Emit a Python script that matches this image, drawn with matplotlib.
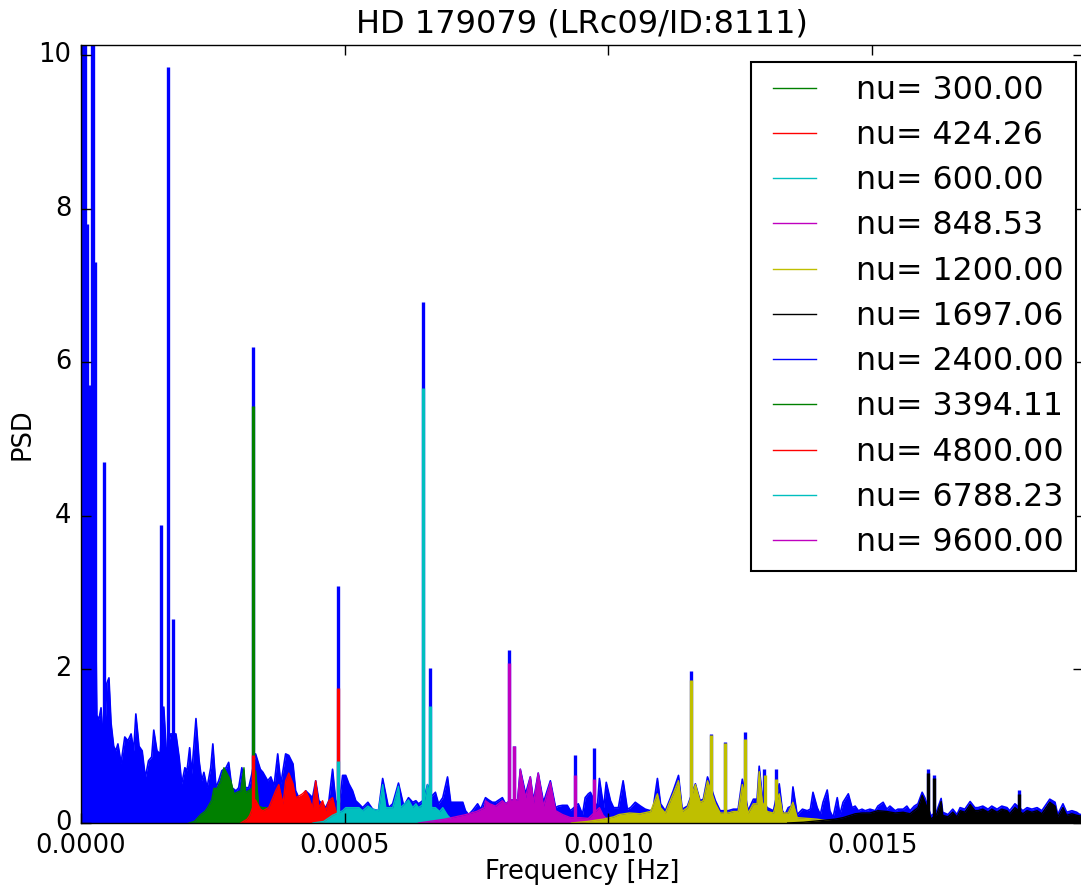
"""
Power spectral density of HD 179079 (CoRoT LRc09/ID:8111) with the
band-filtered spectra for a set of central frequencies nu [muHz].
"""

import numpy as np
import matplotlib
matplotlib.use("Agg")
import matplotlib.pyplot as plt
from matplotlib.ticker import MultipleLocator, FormatStrFormatter

plt.style.use("classic")

# raw PSD, frequencies in muHz
psd_f = [0, 2, 6, 10, 14, 18, 22, 26, 30, 34, 38, 41, 46, 49, 53, 57, 62, 66, 70, 76,
         83, 89, 95, 100, 104, 110, 116, 122, 128, 134, 138, 144, 150, 157, 162, 170, 176,
         180, 186, 191, 197, 201, 206, 210, 218, 224, 229, 233, 239, 246, 250, 256, 261,
         267, 275, 280, 286, 294, 299, 305, 312, 318, 324, 331, 340, 345, 354, 360, 366,
         373, 379, 388, 394, 402, 407, 413, 420, 426, 432, 439, 445, 451, 458, 464, 470,
         477, 483, 490, 496, 502, 508, 515, 521, 527, 534, 544, 553, 564, 572, 583, 591,
         602, 612, 621, 629, 635, 640, 650, 657, 665, 672, 678, 686, 695, 701, 707, 716,
         724, 729, 735, 742, 752, 758, 767, 773, 780, 786, 799, 805, 816, 828, 833, 843,
         852, 858, 867, 877, 890, 900, 905, 913, 922, 928, 943, 951, 956, 962, 966, 979,
         983, 991, 996, 1004, 1010, 1019, 1028, 1036, 1042, 1051, 1061, 1070, 1080, 1085,
         1093, 1099, 1108, 1118, 1123, 1133, 1140, 1150, 1165, 1174, 1180, 1188, 1203,
         1212, 1227, 1237, 1246, 1254, 1265, 1275, 1282, 1286, 1292, 1301, 1307, 1313,
         1324, 1330, 1335, 1341, 1347, 1350, 1358, 1368, 1377, 1383, 1388, 1396, 1402,
         1407, 1415, 1420, 1426, 1434, 1439, 1445, 1455, 1462, 1468, 1474, 1481, 1487,
         1496, 1506, 1511, 1521, 1528, 1534, 1544, 1549, 1559, 1566, 1572, 1580, 1587,
         1595, 1600, 1612, 1623, 1631, 1634, 1644, 1653, 1661, 1667, 1676, 1686, 1695,
         1701, 1710, 1720, 1727, 1737, 1746, 1756, 1761, 1771, 1786, 1794, 1803, 1813,
         1822, 1828, 1837, 1847, 1852, 1862, 1869, 1879, 1888, 1894, 1905]
psd_p = [4.0, 5.0, 4.5, 4.2, 4.6, 4.2, 4.0, 3.7, 1.4, 1.35, 1.5, 1.2, 1.3, 1.82, 1.89, 1.3,
         1.0, 0.94, 1.03, 0.78, 1.12, 1.07, 1.16, 0.94, 1.42, 1.0, 0.94, 0.59, 0.81, 0.86,
         1.21, 0.94, 0.9, 1.51, 0.9, 1.16, 1.16, 1.16, 0.86, 0.51, 0.72, 0.68, 0.98, 0.64,
         1.36, 0.81, 0.55, 0.66, 0.46, 0.72, 1.03, 0.46, 0.55, 0.68, 0.72, 0.79, 0.46, 0.42,
         0.46, 0.72, 0.46, 0.46, 0.64, 0.9, 0.7, 0.66, 0.55, 0.6, 0.48, 0.9, 0.51, 0.9,
         0.88, 0.77, 0.42, 0.33, 0.29, 0.42, 0.38, 0.33, 0.55, 0.29, 0.25, 0.2, 0.29, 0.7,
         0.29, 0.25, 0.62, 0.62, 0.51, 0.42, 0.29, 0.25, 0.2, 0.27, 0.18, 0.16, 0.58, 0.2,
         0.25, 0.52, 0.22, 0.33, 0.27, 0.29, 0.25, 0.3, 0.5, 0.35, 0.4, 0.25, 0.33, 0.6,
         0.27, 0.27, 0.27, 0.27, 0.16, 0.11, 0.16, 0.25, 0.18, 0.33, 0.3, 0.27, 0.27, 0.33,
         0.25, 0.3, 0.3, 0.7, 0.38, 0.6, 0.29, 0.65, 0.27, 0.55, 0.2, 0.22, 0.23, 0.23,
         0.16, 0.25, 0.11, 0.33, 0.38, 0.4, 0.2, 0.58, 0.2, 0.53, 0.29, 0.2, 0.2, 0.55,
         0.18, 0.2, 0.27, 0.22, 0.18, 0.16, 0.2, 0.58, 0.25, 0.16, 0.33, 0.42, 0.62, 0.18,
         0.22, 0.51, 0.29, 0.31, 0.6, 0.29, 0.16, 0.16, 0.18, 0.18, 0.57, 0.16, 0.31, 0.31,
         0.74, 0.33, 0.2, 0.18, 0.16, 0.51, 0.16, 0.11, 0.2, 0.22, 0.47, 0.11, 0.18, 0.16,
         0.18, 0.4, 0.2, 0.11, 0.27, 0.43, 0.16, 0.07, 0.33, 0.11, 0.27, 0.38, 0.2, 0.22,
         0.16, 0.18, 0.16, 0.18, 0.16, 0.22, 0.27, 0.18, 0.22, 0.16, 0.18, 0.18, 0.22, 0.16,
         0.22, 0.25, 0.4, 0.33, 0.09, 0.16, 0.32, 0.14, 0.11, 0.18, 0.11, 0.2, 0.18, 0.28,
         0.2, 0.2, 0.22, 0.18, 0.22, 0.18, 0.22, 0.2, 0.16, 0.25, 0.16, 0.2, 0.18, 0.2,
         0.16, 0.22, 0.31, 0.27, 0.11, 0.25, 0.14, 0.16, 0.14, 0.11, 0.12]
# narrow peaks of the raw PSD
psd_spk_f = [2, 4, 7, 11, 15, 20, 23, 27, 43, 152, 165, 174, 326, 487, 648, 661, 811, 822,
             937, 972, 1157, 1195, 1222, 1260, 1296, 1318, 1606, 1617, 1778]
psd_spk_p = [10.5, 10.5, 10.5, 7.8, 5.7, 10.5, 10.5, 7.3, 4.7, 3.88, 9.85, 2.65, 6.2, 3.08,
             6.78, 2.02, 2.25, 1.0, 0.88, 0.98, 1.98, 1.16, 1.06, 1.18, 0.7, 0.7, 0.7, 0.63,
             0.43]

# filtered spectra, one per central frequency nu
nu_values = [300.00, 424.26, 600.00, 848.53, 1200.00, 1697.06,
             2400.00, 3394.11, 4800.00, 6788.23, 9600.00]
nu_colors = ["g", "r", "c", "m", "y", "k", "b", "g", "r", "c", "m"]

f300 = [205, 215, 227, 235, 240, 248, 252, 258, 265, 271, 278, 284, 290, 296, 303, 309, 312,
        318, 324, 331, 337, 344, 352, 358, 366, 375]
p300 = [0, 0.02, 0.11, 0.15, 0.2, 0.3, 0.45, 0.45, 0.55, 0.72, 0.63, 0.55, 0.38, 0.4, 0.42,
        0.72, 0.4, 0.42, 0.45, 0.68, 0.22, 0.2, 0.2, 0.1, 0.04, 0]
spk300_f = [326]
spk300_p = [5.43]

f424 = [303, 315, 320, 331, 340, 345, 356, 365, 369, 375, 383, 388, 394, 402, 407, 413, 420,
        426, 432, 439, 445, 451, 458, 464, 470, 477, 483, 490, 496, 508, 515]
p424 = [0, 0.05, 0.1, 0.3, 0.18, 0.16, 0.2, 0.35, 0.42, 0.5, 0.25, 0.55, 0.65, 0.51, 0.33,
        0.35, 0.38, 0.42, 0.33, 0.2, 0.55, 0.2, 0.29, 0.16, 0.29, 0.33, 0.16, 0.11, 0.07,
        0.03, 0]
spk424_f = [326, 487]
spk424_p = [0.89, 1.76]

f600 = [440, 460, 477, 496, 502, 515, 527, 534, 544, 553, 564, 572, 578, 591, 602, 606, 621,
        629, 635, 640, 650, 657, 665, 672, 680, 686, 695, 705, 715]
p600 = [0, 0.02, 0.1, 0.16, 0.2, 0.2, 0.2, 0.16, 0.22, 0.18, 0.16, 0.5, 0.2, 0.2, 0.48, 0.2,
        0.3, 0.2, 0.25, 0.2, 0.25, 0.5, 0.2, 0.2, 0.15, 0.2, 0.1, 0.03, 0]
spk600_f = [487, 648, 661]
spk600_p = [0.81, 5.66, 1.52]

f848 = [640, 660, 690, 710, 730, 750, 765, 767, 775, 786, 799, 805, 816, 828, 833, 843, 852,
        858, 867, 877, 890, 900, 913, 928, 945, 962, 983, 990, 1000, 1010]
p848 = [0, 0.02, 0.05, 0.08, 0.11, 0.15, 0.2, 0.29, 0.25, 0.22, 0.29, 0.25, 0.3, 0.3, 0.7,
        0.33, 0.6, 0.26, 0.65, 0.22, 0.53, 0.16, 0.11, 0.07, 0.07, 0.06, 0.2, 0.1, 0.03, 0]
spk848_f = [811, 822, 937, 972]
spk848_p = [2.08, 1.0, 0.62, 0.57]

f1200 = [930, 960, 990, 1010, 1020, 1040, 1060, 1080, 1093, 1099, 1108, 1118, 1123, 1133,
         1140, 1150, 1165, 1174, 1180, 1188, 1203, 1212, 1227, 1237, 1246, 1254, 1265, 1275,
         1282, 1286, 1292, 1301, 1313, 1324, 1330, 1341, 1350, 1358, 1377, 1395, 1415, 1440,
         1455]
p1200 = [0, 0.02, 0.05, 0.08, 0.11, 0.13, 0.12, 0.15, 0.38, 0.2, 0.13, 0.3, 0.38, 0.55, 0.15,
         0.2, 0.5, 0.27, 0.29, 0.55, 0.25, 0.13, 0.13, 0.15, 0.15, 0.5, 0.13, 0.25, 0.25, 0.67,
         0.27, 0.15, 0.13, 0.38, 0.13, 0.13, 0.27, 0.07, 0.06, 0.05, 0.03, 0.01, 0]
spk1200_f = [1157, 1195, 1222, 1260, 1297, 1318]
spk1200_p = [1.86, 1.14, 1.04, 1.1, 0.62, 0.57]

f1697 = [1340, 1370, 1400, 1430, 1445, 1468, 1481, 1496, 1511, 1528, 1544, 1559, 1572, 1587,
         1595, 1600, 1612, 1623, 1631, 1634, 1644, 1653, 1661, 1667, 1676, 1686, 1695, 1701,
         1710, 1720, 1727, 1737, 1746, 1756, 1761, 1771, 1786, 1794, 1803, 1813, 1822, 1828,
         1837, 1847, 1852, 1862, 1869, 1879, 1888, 1905]
p1697 = [0, 0.01, 0.03, 0.05, 0.07, 0.12, 0.13, 0.13, 0.16, 0.15, 0.13, 0.14, 0.12, 0.2,
         0.36, 0.28, 0.05, 0.12, 0.28, 0.1, 0.08, 0.14, 0.08, 0.16, 0.14, 0.24, 0.16, 0.16,
         0.18, 0.14, 0.18, 0.14, 0.18, 0.16, 0.12, 0.2, 0.12, 0.16, 0.14, 0.16, 0.12, 0.18,
         0.27, 0.22, 0.08, 0.2, 0.1, 0.12, 0.1, 0.08]
spk1697_f = [1606, 1617, 1778]
spk1697_p = [0.65, 0.58, 0.38]

# the higher bands lie beyond the plotted frequency range
filtered = [
    (f300, p300, spk300_f, spk300_p),
    (f424, p424, spk424_f, spk424_p),
    (f600, p600, spk600_f, spk600_p),
    (f848, p848, spk848_f, spk848_p),
    (f1200, p1200, spk1200_f, spk1200_p),
    (f1697, p1697, spk1697_f, spk1697_p),
    ([], [], [], []),
    ([], [], [], []),
    ([], [], [], []),
    ([], [], [], []),
    ([], [], [], []),
]

MUHZ = 1e-6


def make_plot():
    fig = plt.figure(figsize=(10.81, 8.88), dpi=100, facecolor="white")
    ax = fig.add_axes([81 / 1081, 1 - 823 / 888, 1002 / 1081, 778 / 888])

    # raw spectrum in the background
    f = np.array(psd_f) * MUHZ
    ax.fill_between(f, 0, psd_p, color="b", lw=0, zorder=1)
    ax.plot(f, psd_p, color="b", lw=1.2, zorder=1)
    ax.vlines(np.array(psd_spk_f) * MUHZ, 0, psd_spk_p, colors="b", lw=2.4, zorder=1)

    # filtered spectra on top
    for nu, col, (ff, pp, sf, sp) in zip(nu_values, nu_colors, filtered):
        ff = np.array(ff, dtype=float) * MUHZ
        if len(ff):
            ax.fill_between(ff, 0, pp, color=col, lw=0, zorder=2)
        ax.plot(ff, pp, color=col, lw=1.0, zorder=2, label="nu= %.2f" % nu)
        if len(sf):
            ax.vlines(np.array(sf) * MUHZ, 0, sp, colors=col, lw=2.4, zorder=2)

    ax.set_xlim(0, 0.0019)
    ax.set_ylim(0, 10.13)
    ax.xaxis.set_major_locator(MultipleLocator(0.0005))
    ax.xaxis.set_major_formatter(FormatStrFormatter("%.4f"))
    ax.yaxis.set_major_locator(MultipleLocator(2))
    ax.tick_params(which="major", direction="in", length=7, width=1,
                   labelsize=18.5, pad=7, top=True, right=True)

    ax.set_title("HD 179079 (LRc09/ID:8111)", fontsize=23, pad=9)
    ax.set_xlabel("Frequency [Hz]", fontsize=18.5, labelpad=0)
    ax.set_ylabel("PSD", fontsize=18.5, labelpad=2)

    leg = ax.legend(loc="upper right", bbox_to_anchor=(1076 / 1081, 1 - 62 / 888),
                    bbox_transform=fig.transFigure, borderaxespad=0, fontsize=22.8,
                    handlelength=1.95, handletextpad=0.95, labelspacing=0.45,
                    borderpad=0.4, fancybox=False, numpoints=2)
    leg.get_frame().set_linewidth(1.5)
    leg.get_frame().set_edgecolor("black")

    fig.savefig("out.png", dpi=100, facecolor="white")
    plt.close(fig)


if __name__ == "__main__":
    make_plot()
